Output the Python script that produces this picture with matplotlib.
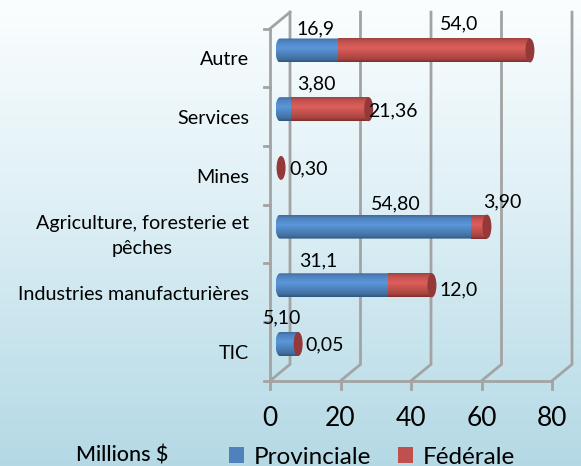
import numpy as np
import matplotlib
matplotlib.use("Agg")
import matplotlib.pyplot as plt
from matplotlib.colors import LinearSegmentedColormap
from matplotlib.patches import Ellipse, PathPatch, Patch
from matplotlib.path import Path

plt.rcParams['font.family'] = ['Lato', 'DejaVu Sans']

# ---------------------------
# data
# ---------------------------
categories = ["TIC", "Industries manufacturières", "Agriculture, foresterie et\npêches",
              "Mines", "Services", "Autre"]
provinciale = [5.10, 31.1, 54.80, 0, 3.80, 16.9]
federale = [0.05, 12.0, 3.90, 0.30, 21.36, 54.0]
prov_labels = ["5,10", "31,1", "54,80", "", "3,80", "16,9"]
fed_labels = ["0,05", "12,0", "3,90", "0,30", "21,36", "54,0"]
x_ticks = [0, 20, 40, 60, 80]

# label offsets from the segment centre, in pixels
prov_offsets = [(-7, 26), (-17, 24), (19, 23), (0, 0), (30, 25), (6, 22)]
fed_offsets = [(27, -1), (48, -5), (22, 25), (28, -1), (62, -2), (24, 27)]

# ---------------------------
# geometry
# ---------------------------
W, H = 581, 466
px_per_unit = 3.525
px_per_cat = 58.7
x0_px = 270
y0_px = 351.5


def to_x(px):
    return (px - x0_px) / px_per_unit


def to_y(py):
    return (y0_px - py) / px_per_cat


depth_x = 20 / px_per_unit
depth_y = 16.5 / px_per_cat
bar_dx = 10 / px_per_unit
bar_dy = 7.5 / px_per_cat
bar_h = 24 / px_per_cat
cap_w = 9 / px_per_unit
seam_shift = 2 / px_per_unit

fig = plt.figure(figsize=(W / 100, H / 100), dpi=100)
ax = fig.add_axes([0, 0, 1, 1])
xlim = (to_x(0), to_x(W))
ylim = (to_y(H), to_y(0))

# ---------------------------
# background
# ---------------------------
bg = LinearSegmentedColormap.from_list("bg", [(0, "#b4d9e5"), (0.57, "#dff0f6"), (1, "#fbfeff")])
ax.imshow(np.linspace(0, 1, 256)[:, None], cmap=bg, origin="lower", aspect="auto",
          extent=(xlim[0], xlim[1], ylim[0], ylim[1]), zorder=0)

# ---------------------------
# 3D walls
# ---------------------------
grey = "#a3a3a3"
lw = 2.0
y_floor = -0.5
y_top = 5.5
for t in x_ticks:
    ax.plot([t, t + depth_x, t + depth_x], [y_floor, y_floor + depth_y, y_top + depth_y],
            color=grey, lw=lw, zorder=1, solid_joinstyle="miter")
    ax.plot([t, t], [y_floor, y_floor - 8 / px_per_cat], color=grey, lw=lw, zorder=1)
ax.plot([0, 80], [y_floor, y_floor], color=grey, lw=lw, zorder=1)
ax.plot([0, 0], [y_floor, y_top], color=grey, lw=lw, zorder=1)
ax.plot([0, depth_x], [y_top, y_top + depth_y], color=grey, lw=lw, zorder=1)
for b in np.arange(len(categories) + 1) - 0.5:
    ax.plot([-6 / px_per_unit, 0], [b, b], color=grey, lw=lw, zorder=1)

# ---------------------------
# cylinders
# ---------------------------
blue_cm = LinearSegmentedColormap.from_list(
    "b", [(0, "#2f5680"), (0.12, "#41709f"), (0.6, "#5b97dc"), (0.88, "#4f82bf"), (1, "#3f6a9c")])
red_cm = LinearSegmentedColormap.from_list(
    "r", [(0, "#7d2f2d"), (0.12, "#a84440"), (0.6, "#dd5f5b"), (0.88, "#c0504d"), (1, "#9c4240")])
grad = np.linspace(0, 1, 64)[:, None]


def segment(left, right, yc, cmap, round_left):
    im = ax.imshow(grad, cmap=cmap, origin="lower", aspect="auto", zorder=3,
                   extent=(left - cap_w / 2, right, yc - bar_h / 2, yc + bar_h / 2))
    t = np.linspace(np.pi / 2, 3 * np.pi / 2, 30)
    if round_left:
        xs = left + cap_w / 2 * np.cos(t)
        ys = yc + bar_h / 2 * np.sin(t)
    else:
        xs = np.array([left, left])
        ys = np.array([yc + bar_h / 2, yc - bar_h / 2])
    verts = list(zip(xs, ys)) + [(right, yc - bar_h / 2), (right, yc + bar_h / 2), (xs[0], ys[0])]
    clip = PathPatch(Path(verts), transform=ax.transData, fc="none", ec="none")
    ax.add_patch(clip)
    im.set_clip_path(clip)


for i, (p, f) in enumerate(zip(provinciale, federale)):
    yc = i + bar_dy
    x_start = bar_dx
    x_mid = x_start + p
    x_end = x_mid + f
    if p > 0:
        segment(x_start, x_end, yc, blue_cm, True)
    if p + f > 1 and f > 0.2:
        segment(x_mid - seam_shift, x_end, yc, red_cm, False)
    ax.add_patch(Ellipse((x_end, yc), cap_w, bar_h, fc="#95383a", ec="none", zorder=4))

    if prov_labels[i]:
        ax.annotate(prov_labels[i], xy=(x_start + p / 2, yc), xytext=prov_offsets[i],
                    textcoords="offset pixels", ha="center", va="center",
                    fontsize=14, color="black", zorder=5)
    ax.annotate(fed_labels[i], xy=(x_mid + f / 2, yc), xytext=fed_offsets[i],
                textcoords="offset pixels", ha="center", va="center",
                fontsize=14, color="black", zorder=5)
    ax.text(to_x(249), i - 2 / px_per_cat, categories[i], ha="right", va="center", ma="center",
            fontsize=14.2, linespacing=1.55, zorder=5)

# ---------------------------
# axis text and legend
# ---------------------------
for t in x_ticks:
    ax.text(t, to_y(418), str(t), ha="center", va="center", fontsize=19, zorder=5)

ax.text(to_x(122.5), to_y(455), "Millions $", ha="center", va="center", fontsize=15.5,
        fontweight="medium", zorder=5)

handles = [Patch(fc="#4f81bd", label="Provinciale"), Patch(fc="#c0504d", label="Fédérale")]
ax.legend(handles=handles, loc="center left", bbox_to_anchor=(229 / W, 1 - 457 / H), ncol=2,
          frameon=False, fontsize=17.5, handlelength=0.62, handleheight=0.62,
          handletextpad=0.4, columnspacing=1.09, borderpad=0, borderaxespad=0)

ax.set_xlim(xlim)
ax.set_ylim(ylim)
ax.axis("off")

fig.savefig("out.png", dpi=100)
